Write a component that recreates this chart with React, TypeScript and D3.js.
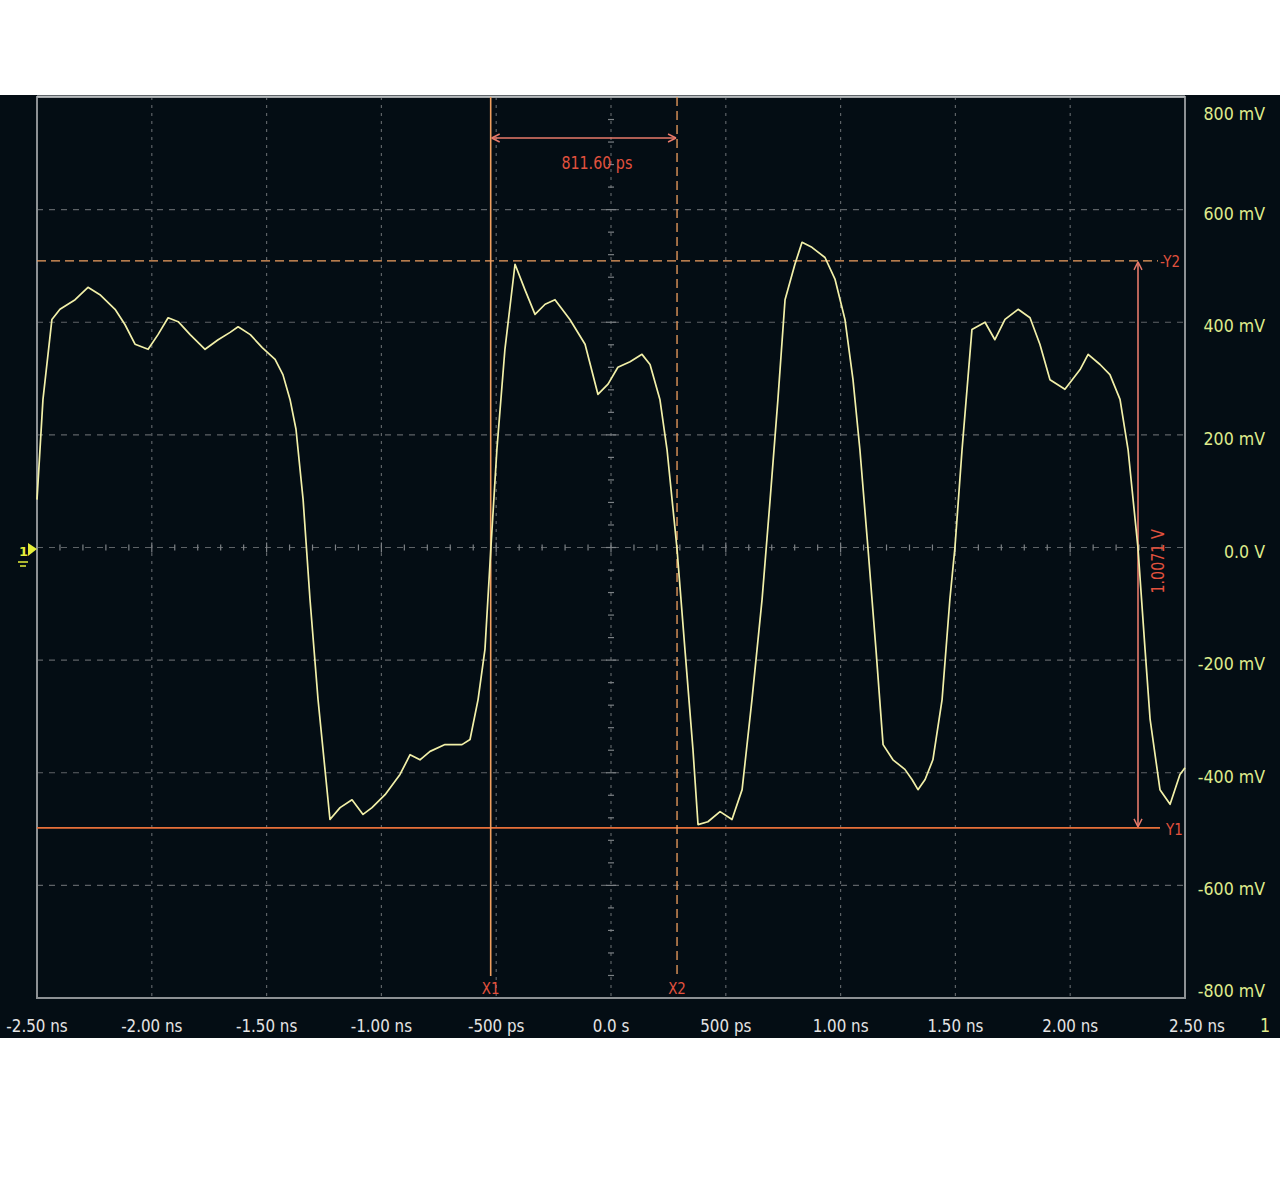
import React from "react";
import * as d3 from "d3";

// time (ns) and voltage (mV) of the captured trace
const traceTime = [-2.5, -2.474, -2.435, -2.4, -2.334, -2.278, -2.226, -2.16, -2.117, -2.073, -2.016, -1.973, -1.929, -1.885, -1.833, -1.768, -1.711, -1.659, -1.624, -1.571, -1.519, -1.463, -1.429, -1.398, -1.372, -1.341, -1.311, -1.276, -1.224, -1.18, -1.128, -1.08, -1.041, -0.984, -0.919, -0.875, -0.832, -0.788, -0.723, -0.649, -0.614, -0.579, -0.549, -0.523, -0.497, -0.462, -0.418, -0.375, -0.331, -0.287, -0.244, -0.179, -0.113, -0.057, -0.013, 0.03, 0.083, 0.135, 0.17, 0.213, 0.244, 0.287, 0.322, 0.357, 0.379, 0.422, 0.475, 0.527, 0.571, 0.614, 0.658, 0.693, 0.727, 0.758, 0.801, 0.832, 0.875, 0.932, 0.976, 1.019, 1.054, 1.084, 1.119, 1.154, 1.185, 1.228, 1.28, 1.311, 1.337, 1.368, 1.402, 1.442, 1.476, 1.498, 1.529, 1.572, 1.629, 1.672, 1.716, 1.773, 1.825, 1.868, 1.912, 1.977, 2.043, 2.078, 2.13, 2.173, 2.217, 2.252, 2.295, 2.326, 2.348, 2.391, 2.435, 2.478, 2.5];
const traceMv = [85, 263, 405, 423, 440, 462, 449, 423, 396, 361, 352, 378, 408, 401, 378, 352, 369, 382, 392, 378, 355, 334, 307, 263, 210, 85, -92, -270, -483, -462, -448, -474, -462, -439, -403, -368, -377, -362, -350, -350, -341, -270, -181, 0, 174, 352, 503, 458, 414, 432, 440, 405, 361, 272, 290, 320, 330, 343, 325, 263, 174, 0, -181, -359, -492, -487, -469, -483, -430, -270, -92, 85, 263, 440, 503, 542, 533, 515, 476, 405, 298, 174, 0, -181, -350, -377, -394, -412, -430, -412, -377, -270, -92, 0, 174, 387, 400, 369, 405, 423, 408, 361, 298, 281, 316, 343, 325, 307, 263, 174, 0, -181, -305, -430, -456, -403, -391];

const xTickValues = [-2.5, -2.0, -1.5, -1.0, -0.5, 0, 0.5, 1.0, 1.5, 2.0, 2.5];
const xTickLabels = ["-2.50 ns", "-2.00 ns", "-1.50 ns", "-1.00 ns", "-500 ps", "0.0 s", "500 ps", "1.00 ns", "1.50 ns", "2.00 ns", "2.50 ns"];
const yTickValues = [800, 600, 400, 200, 0, -200, -400, -600, -800];
const yTickLabels = ["800 mV", "600 mV", "400 mV", "200 mV", "0.0 V", "-200 mV", "-400 mV", "-600 mV", "-800 mV"];

const cursorX1 = -0.524;
const cursorX2 = 0.2876;
const cursorY1 = -498;
const cursorY2 = 509;
const deltaXLabel = "811.60 ps";
const deltaYLabel = "1.0071 V";

const FONT = "'DejaVu Sans', 'Liberation Sans', sans-serif";

function NText(props: { x: number; y: number; fill: string; size: number; anchor?: string; sx?: number; rotate?: number; children: React.ReactNode }) {
  const { x, y, fill, size, anchor = "start", sx = 0.84, rotate = 0 } = props;
  return (
    <g transform={`translate(${x},${y}) rotate(${rotate}) scale(${sx},1)`}>
      <text x={0} y={0} fill={fill} fontSize={size} fontFamily={FONT} textAnchor={anchor as any}>{props.children}</text>
    </g>
  );
}

export default function App() {
  const W = 1280, H = 1190;
  const left = 37, right = 1185, top = 97, bottom = 998;
  const x = d3.scaleLinear().domain([-2.5, 2.5]).range([left, right]);
  const y = d3.scaleLinear().domain([-800, 800]).range([bottom, top]);
  const pts: [number, number][] = traceTime.map((t, i) => [t, traceMv[i]]);
  const line = d3.line<[number, number]>().x(d => x(d[0])).y(d => y(d[1]));
  const gridColor = "#5d6266";
  const cursorColor = "#f0a060";
  const redColor = "#e2523e";
  const xs1 = x(cursorX1), xs2 = x(cursorX2), ys1 = y(cursorY1), ys2 = y(cursorY2);

  const minorX = d3.range(-2.5, 2.5001, 0.1);
  const minorY = d3.range(-800, 800.1, 40);

  return (
    <svg width={W} height={H} style={{ position: "absolute", left: 0, top: 0, display: "block" }}>
      <rect x={0} y={0} width={W} height={H} fill="#ffffff" />
      <rect x={0} y={95} width={W} height={943} fill="#040d14" />
      {/* grid */}
      {xTickValues.slice(1, -1).map((v, i) => (
        <line key={"gx" + i} x1={x(v)} x2={x(v)} y1={top} y2={bottom} stroke={gridColor} strokeWidth={1.2} strokeDasharray="3,5" />
      ))}
      {yTickValues.slice(1, -1).map((v, i) => (
        <line key={"gy" + i} x1={left} x2={right} y1={y(v)} y2={y(v)} stroke={gridColor} strokeWidth={1.2} strokeDasharray="6,6" />
      ))}
      {/* minor ticks on center lines */}
      {minorX.map((v, i) => (
        <line key={"mx" + i} x1={x(v)} x2={x(v)} y1={y(0) - (i % 5 === 0 ? 5 : 3)} y2={y(0) + (i % 5 === 0 ? 5 : 3)} stroke="#7c8185" strokeWidth={1.2} />
      ))}
      {minorY.map((v, i) => (
        <line key={"my" + i} x1={x(0) - (i % 5 === 0 ? 5 : 3)} x2={x(0) + (i % 5 === 0 ? 5 : 3)} y1={y(v)} y2={y(v)} stroke="#7c8185" strokeWidth={1.2} />
      ))}
      {/* border */}
      <rect x={left} y={top} width={right - left} height={bottom - top} fill="none" stroke="#8d9194" strokeWidth={2} />
      <line x1={left} x2={right} y1={top - 0.5} y2={top - 0.5} stroke="#b8bcbe" strokeWidth={2} />

      {/* Y cursors */}
      <line x1={left} x2={1158} y1={ys2} y2={ys2} stroke={cursorColor} strokeWidth={1.3} strokeDasharray="9,5" />
      <line x1={left} x2={1160} y1={ys1} y2={ys1} stroke="#e8703a" strokeWidth={1.8} />
      <NText x={1160} y={ys2 + 6} fill={redColor} size={16}>-Y2</NText>
      <NText x={1166} y={ys1 + 7} fill={redColor} size={16}>Y1</NText>

      {/* X cursors */}
      <line x1={xs1} x2={xs1} y1={top} y2={976} stroke={cursorColor} strokeWidth={1.6} />
      <line x1={xs2} x2={xs2} y1={top} y2={976} stroke={cursorColor} strokeWidth={1.3} strokeDasharray="9,5" />
      <NText x={xs1} y={994} fill={redColor} size={16} anchor="middle">X1</NText>
      <NText x={xs2} y={994} fill={redColor} size={16} anchor="middle">X2</NText>

      {/* delta X arrow */}
      <line x1={xs1 + 1} x2={xs2 - 1} y1={138} y2={138} stroke="#e87a6a" strokeWidth={1.6} />
      <path d={`M${xs1 + 1},138 l8,-4 M${xs1 + 1},138 l8,4 M${xs2 - 1},138 l-8,-4 M${xs2 - 1},138 l-8,4`} stroke="#e87a6a" strokeWidth={1.4} fill="none" />
      <NText x={(xs1 + xs2) / 2 + 13} y={169} fill={redColor} size={17} anchor="middle">{deltaXLabel}</NText>

      {/* delta Y arrow */}
      <line x1={1138} x2={1138} y1={ys2 + 1} y2={ys1 - 1} stroke="#e87a6a" strokeWidth={1.6} />
      <path d={`M1138,${ys2 + 1} l-4,8 M1138,${ys2 + 1} l4,8 M1138,${ys1 - 1} l-4,-8 M1138,${ys1 - 1} l4,-8`} stroke="#e87a6a" strokeWidth={1.4} fill="none" />
      <NText x={1164} y={(ys1 + ys2) / 2 + 17} rotate={-90} fill={redColor} size={17} anchor="middle">{deltaYLabel}</NText>

      {/* trace */}
      <path d={line(pts) || ""} fill="none" stroke="#f2f0a8" strokeWidth={1.7} strokeLinejoin="round" />

      {/* channel marker */}
      <path d="M28,543 L37,549 L28,556 Z" fill="#e6ef3a" />
      <text x={19} y={556} fill="#e6ef3a" fontSize={13} fontFamily={FONT} fontWeight="bold">1</text>
      <line x1={18} x2={28} y1={562} y2={562} stroke="#e6ef3a" strokeWidth={1.5} />
      <line x1={20} x2={26} y1={566} y2={566} stroke="#e6ef3a" strokeWidth={1.5} />

      {/* x axis labels */}
      {xTickValues.map((v, i) => (
        <NText key={"xl" + i} x={x(v) + (i === 10 ? 12 : 0)} y={1032} fill="#e4e4e4" size={18} anchor="middle">{xTickLabels[i]}</NText>
      ))}
      {/* y axis labels */}
      {yTickValues.map((v, i) => {
        let yy = y(v) + 10;
        if (i === 0) yy = y(v) + 23;
        if (i === yTickValues.length - 1) yy = y(v) - 1;
        return (
          <NText key={"yl" + i} x={1265} y={yy} fill="#dfeb8c" size={18} anchor="end" sx={0.88}>{yTickLabels[i]}</NText>
        );
      })}
      <NText x={1260} y={1032} fill="#dfeb8c" size={19}>1</NText>
    </svg>
  );
}
